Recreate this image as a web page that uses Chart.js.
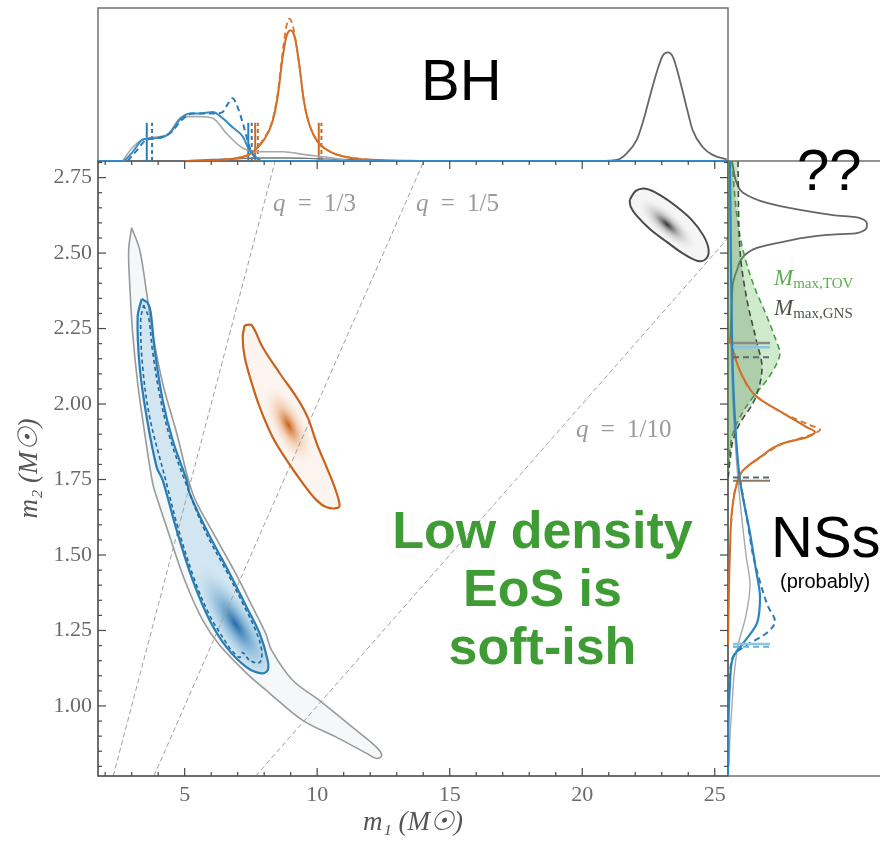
<!DOCTYPE html>
<html><head><meta charset="utf-8">
<script src="https://cdn.jsdelivr.net/npm/chart.js@4.4.0/dist/chart.umd.min.js"></script>
<style>
html,body{margin:0;padding:0;background:#fff;}
#wrap{position:relative;width:880px;height:843px;overflow:hidden;background:#fff;}
canvas{position:absolute;}
.t{position:absolute;white-space:nowrap;line-height:1;}
.sans{font-family:"Liberation Sans",Arial,sans-serif;color:#000;}
.q{font-family:"Liberation Serif",serif;color:#9a9a9a;font-size:25px;word-spacing:6px;}
.q i{font-style:italic;}
.mm{font-family:"Liberation Serif",serif;font-size:23px;}
.mm sub{font-size:15px;font-style:normal;vertical-align:-3px;}
</style></head><body>
<div id="wrap">
<canvas id="main" width="880" height="843" style="left:0;top:0"></canvas>
<canvas id="top" width="880" height="170" style="left:0;top:0"></canvas>
<canvas id="side" width="160" height="640" style="left:720px;top:150px"></canvas>

<div class="t sans" style="left:421px;top:51px;font-size:58px;">BH</div>
<div class="t sans" style="left:797px;top:141px;font-size:58px;">??</div>
<div class="t sans" style="left:771px;top:508px;font-size:58px;">NSs</div>
<div class="t sans" style="left:780px;top:571px;font-size:20px;">(probably)</div>
<div class="t sans" style="left:300px;top:501px;width:485px;text-align:center;font-size:52px;font-weight:bold;color:#3f9c35;line-height:58px;">Low density<br>EoS is<br>soft-ish</div>
<div class="t mm" style="left:774px;top:266px;color:#5aae50;"><i>M</i><sub>max,TOV</sub></div>
<div class="t mm" style="left:774px;top:296px;color:#4b574b;"><i>M</i><sub>max,GNS</sub></div>
<div class="t q" style="left:273px;top:190px;"><i>q</i> = 1/3</div>
<div class="t q" style="left:416px;top:190px;"><i>q</i> = 1/5</div>
<div class="t q" style="left:576px;top:416px;"><i>q</i> = 1/10</div>
</div>

<script>
// ================= DATA =================
const xTicks = [5, 10, 15, 20, 25];
const yTicks = [1.00, 1.25, 1.50, 1.75, 2.00, 2.25, 2.50, 2.75];
const qValues = [1/3, 1/5, 1/10];

// main panel contours (m1, m2)
const grayBanana_m1 = [3.000,3.302,3.566,3.792,4.170,4.698,5.302,6.019,6.925,7.566,8.057,8.283,9.075,10.094,11.340,12.245,12.434,12.245,11.868,10.736,9.453,8.208,7.340,6.321,5.679,5.000,4.358,3.981,3.792,3.491,3.226,3.038,2.925,2.887];
const grayBanana_m2 = [2.584,2.511,2.368,2.235,2.069,1.904,1.704,1.582,1.439,1.327,1.240,1.184,1.085,1.018,0.929,0.863,0.836,0.826,0.843,0.896,0.952,1.042,1.108,1.201,1.284,1.417,1.582,1.682,1.738,1.904,2.069,2.235,2.401,2.511];

const blueSolid_m1 = [3.377,3.604,3.717,3.868,4.170,4.547,5.075,5.189,5.830,6.698,7.340,7.830,8.132,8.132,7.906,7.340,6.585,5.943,5.302,4.698,4.170,3.943,3.566,3.302,3.226];
const blueSolid_m2 = [2.348,2.335,2.305,2.179,2.013,1.880,1.748,1.704,1.582,1.439,1.327,1.240,1.151,1.118,1.108,1.128,1.194,1.284,1.417,1.582,1.748,1.791,1.957,2.123,2.288];

const blueDashed_m1 = [3.453,3.642,3.792,4.094,4.472,5.000,5.755,6.623,7.264,7.679,7.906,7.830,7.453,7.189,7.075,6.774,6.509,5.943,5.377,4.774,4.283,3.679,3.415,3.340];
const blueDashed_m2 = [2.328,2.285,2.172,2.013,1.880,1.748,1.582,1.439,1.327,1.250,1.184,1.144,1.151,1.177,1.161,1.184,1.217,1.300,1.417,1.582,1.748,1.957,2.123,2.278];

const orange_m1 = [7.264,7.528,7.943,8.585,9.226,9.642,9.981,10.358,10.660,10.849,10.736,10.358,9.981,9.453,8.849,8.321,7.830,7.528,7.264,7.189];
const orange_m2 = [2.261,2.261,2.188,2.102,2.022,1.956,1.870,1.790,1.724,1.665,1.655,1.658,1.681,1.738,1.814,1.890,1.990,2.070,2.156,2.222];

const bh_m1 = [21.79,22.02,22.40,22.92,23.53,24.13,24.58,24.77,24.66,24.36,23.83,23.19,22.55,22.06,21.83];
const bh_m2 = [2.676,2.706,2.713,2.693,2.656,2.610,2.557,2.510,2.480,2.474,2.497,2.537,2.580,2.623,2.653];

// density peaks (m1, m2)
const blueCore = [6.93, 1.27];
const orangeCore = [8.92, 1.93];
const bhCore = [23.2, 2.595];

// top marginal: m1 and density
const topBlue_m1 = [1.73,2.66,3.04,3.42,3.98,4.43,4.81,5.19,5.57,6.06,6.43,6.81,7.19,7.45,7.72,7.94,25.5];
const topBlue_d  = [0,0.0,0.06,0.14,0.15,0.18,0.27,0.31,0.31,0.32,0.28,0.22,0.16,0.07,0.02,0.0,0];
const topBlueDash_m1 = [2.85,3.2,3.57,4.0,4.5,4.9,5.3,5.7,6.1,6.43,6.62,6.81,7.0,7.19,7.45,7.72];
const topBlueDash_d  = [0,0.07,0.14,0.15,0.19,0.27,0.31,0.31,0.31,0.32,0.37,0.41,0.35,0.25,0.09,0];
const topGray_m1 = [2.66,3.04,3.57,4.32,4.92,5.57,6.06,6.58,7.19,7.83,8.70,9.60,10.58,11.23];
const topGray_d  = [0,0.09,0.15,0.17,0.29,0.29,0.28,0.18,0.085,0.06,0.06,0.04,0.02,0];
const topGrayO_m1 = [5,6,7,8,9,10,11,12,14];
const topGrayO_d  = [0,0.01,0.015,0.02,0.02,0.015,0.01,0.005,0];
const topBH_m1 = [20.5,21.30,21.68,22.06,22.28,22.55,22.81,23.04,23.23,23.42,23.68,23.94,24.17,24.55,24.92,25.45];
const topBH_d  = [0,0.007,0.05,0.14,0.25,0.42,0.58,0.69,0.71,0.68,0.53,0.35,0.2,0.09,0.04,0.01];
const topOrange_m1 = [5.0,6.0,6.5,7.0,7.5,8.0,8.3,8.5,8.7,8.85,9.0,9.15,9.3,9.5,9.7,10.0,10.5,11.0,11.5,12.5,14.0];
const topOrange_d  = [0,0.005,0.01,0.02,0.05,0.14,0.25,0.41,0.68,0.82,0.855,0.81,0.66,0.39,0.24,0.13,0.06,0.03,0.015,0.005,0];
const topOrangeDash_m1 = [6.5,7.0,7.5,8.0,8.3,8.5,8.7,8.85,8.95,9.1,9.3,9.5,9.7,10.0,10.5,11.0,12.0];
const topOrangeDash_d  = [0.01,0.02,0.05,0.15,0.26,0.43,0.72,0.89,0.93,0.87,0.66,0.39,0.24,0.13,0.06,0.03,0.008];
// credible-interval bars in top panel (m1)
const topBarsBlue = [3.57, 7.40];
const topBarsBlueDash = [3.77, 7.53];
const topBarsOrange = [7.66, 10.06];
const topBarsOrangeDash = [7.76, 10.16];
const topBarHeight = 0.25;

// side marginal: m2 and density
const sideBH_m2 = [2.805,2.73,2.70,2.666,2.643,2.626,2.616,2.593,2.566,2.56,2.537,2.517,2.487,2.444,2.40,2.344,2.2];
const sideBH_d  = [0.04,0.09,0.15,0.39,0.72,1.05,1.32,1.39,1.29,0.99,0.55,0.29,0.15,0.09,0.05,0.04,0.02];
const sideTOV_m2 = [2.805,2.62,2.51,2.40,2.289,2.202,2.169,2.136,2.08,2.023,1.957,1.904,1.848,1.75];
const sideTOV_d  = [0.04,0.09,0.15,0.25,0.39,0.49,0.52,0.49,0.39,0.25,0.12,0.05,0.02,0.0];
const sideGNS_m2 = [2.805,2.51,2.344,2.202,2.123,2.069,2.003,1.937,1.88,1.814,1.75];
const sideGNS_d  = [0.10,0.12,0.19,0.29,0.34,0.32,0.25,0.12,0.05,0.02,0];
const sideOrange_m2 = [2.22,2.155,2.089,2.023,1.97,1.923,1.907,1.89,1.87,1.824,1.78,1.737,1.648,1.515,1.4,1.2];
const sideOrange_d  = [0.02,0.07,0.15,0.29,0.55,0.79,0.87,0.79,0.55,0.32,0.15,0.09,0.04,0.02,0.01,0];
const sideOrangeDash_m2 = [2.2,2.1,2.03,1.97,1.93,1.915,1.895,1.87,1.82,1.78,1.73,1.6];
const sideOrangeDash_d  = [0.04,0.13,0.27,0.55,0.82,0.92,0.8,0.56,0.31,0.15,0.08,0.03];
const sideBlue_m2 = [2.805,2.454,2.01,1.747,1.572,1.45,1.36,1.274,1.207,1.16,1.074,0.95,0.77];
const sideBlue_d  = [0.02,0.03,0.06,0.12,0.22,0.28,0.32,0.29,0.15,0.05,0.02,0.005,0];
const sideBlueDash_m2 = [1.75,1.6,1.5,1.4,1.33,1.28,1.24,1.2,1.17,1.1,1.0];
const sideBlueDash_d  = [0.12,0.2,0.25,0.33,0.40,0.47,0.38,0.18,0.06,0.02,0.005];
const sideGray_m2 = [2.2,2.0,1.75,1.5,1.4,1.3,1.2,1.1,1.0,0.9,0.8];
const sideGray_d  = [0.03,0.05,0.1,0.18,0.22,0.18,0.1,0.06,0.04,0.02,0.01];
// credible-interval bars in side panel (m2)
const sideBarsGray = [2.202];
const sideBarsBlue = [2.188, 1.205];
const sideBarsDash = [2.155, 1.757];
const sideBarsOrange = [1.746];
const sideBarsBlueDash = [1.196];
const sideBarLen = 0.42;

// axis limits
const M1_MIN = 1.73, M1_MAX = 25.5, M2_MIN = 0.768, M2_MAX = 2.805;

// ================= HELPERS =================
const zip = (a, b) => a.map((v, i) => ({x: v, y: b[i]}));
const closed = arr => arr.concat([arr[0]]);
const line = (data, color, width, dash, extra) => Object.assign({
  data, borderColor: color, borderWidth: width, borderDash: dash || [],
  pointRadius: 0, fill: false, tension: 0, showLine: true
}, extra || {});
const smoothC = {tension: 0.35};
const smoothM = {cubicInterpolationMode: 'monotone'};

// ================= MAIN CHART =================
const qLineData = qValues.map(q => [{x: M2_MIN / q, y: M2_MIN}, {x: M2_MAX / q, y: M2_MAX}]);

const shades = [
  {c1: grayBanana_m1, c2: grayBanana_m2, base: 'rgba(232,239,242,0.45)', core: null},
  {c1: blueSolid_m1, c2: blueSolid_m2, base: 'rgba(175,212,233,0.5)', core: blueCore,
   angle: 1.0, ratio: 0.3, r: 80, color: 'rgba(25,100,160,0.95)', mid: 'rgba(80,150,200,0.45)'},
  {c1: orange_m1, c2: orange_m2, base: 'rgba(250,238,228,0.6)', core: orangeCore,
   angle: 1.1, ratio: 0.38, r: 48, color: 'rgba(200,85,10,0.95)', mid: 'rgba(225,140,80,0.4)'},
  {c1: bh_m1, c2: bh_m2, base: 'rgba(238,238,238,0.6)', core: bhCore,
   angle: 0.72, ratio: 0.33, r: 40, color: 'rgba(40,40,40,0.95)', mid: 'rgba(120,120,120,0.4)'}
];

function tracePath(ctx, pts) {
  const n = pts.length;
  ctx.moveTo(pts[0][0], pts[0][1]);
  for (let i = 0; i < n; i++) {
    const p0 = pts[(i - 1 + n) % n], p1 = pts[i], p2 = pts[(i + 1) % n], p3 = pts[(i + 2) % n];
    const k = 0.35 / 2;
    ctx.bezierCurveTo(p1[0] + (p2[0] - p0[0]) * k, p1[1] + (p2[1] - p0[1]) * k,
                      p2[0] - (p3[0] - p1[0]) * k, p2[1] - (p3[1] - p1[1]) * k, p2[0], p2[1]);
  }
  ctx.closePath();
}

const shadePlugin = {
  id: 'shade',
  beforeDatasetsDraw(chart) {
    const {ctx, chartArea: a, scales: {x, y}} = chart;
    ctx.save();
    ctx.beginPath(); ctx.rect(a.left, a.top, a.width, a.height); ctx.clip();
    shades.forEach(s => {
      ctx.save();
      const pts = s.c1.map((m1, i) => [x.getPixelForValue(m1), y.getPixelForValue(s.c2[i])]);
      ctx.beginPath();
      tracePath(ctx, pts);
      ctx.fillStyle = s.base; ctx.fill();
      if (s.core) {
        ctx.clip();
        const cx = x.getPixelForValue(s.core[0]), cy = y.getPixelForValue(s.core[1]);
        ctx.translate(cx, cy); ctx.rotate(s.angle); ctx.scale(1, s.ratio);
        const g = ctx.createRadialGradient(0, 0, 0, 0, 0, s.r);
        g.addColorStop(0, s.color); g.addColorStop(0.4, s.mid); g.addColorStop(1, 'rgba(255,255,255,0)');
        ctx.fillStyle = g; ctx.fillRect(-s.r, -s.r, 2 * s.r, 2 * s.r);
      }
      ctx.restore();
    });
    ctx.restore();
  }
};

const mainFrame = {
  id: 'mainFrame',
  afterDraw(chart) {
    const {ctx, chartArea: a, scales: {x, y}} = chart;
    ctx.save();
    ctx.strokeStyle = '#4a4a4a';
    ctx.lineWidth = 1.6;
    ctx.strokeRect(a.left, a.top, a.width, a.height);
    ctx.lineWidth = 1.2;
    const seg = (x1, y1, x2, y2) => { ctx.beginPath(); ctx.moveTo(x1, y1); ctx.lineTo(x2, y2); ctx.stroke(); };
    for (let v = 2; v <= 25; v++) {
      const px = x.getPixelForValue(v);
      const L = xTicks.includes(v) ? 8 : 4;
      seg(px, a.bottom, px, a.bottom - L);
      seg(px, a.top, px, a.top + L);
    }
    for (let k = 16; k <= 56; k++) {
      const v = k * 0.05;
      const py = y.getPixelForValue(v);
      if (py < a.top || py > a.bottom) continue;
      const L = (k % 5 === 0) ? 8 : 4;
      seg(a.left, py, a.left + L, py);
      seg(a.right, py, a.right - L, py);
    }
    ctx.restore();
  }
};

new Chart(document.getElementById('main'), {
  type: 'line',
  data: {
    datasets: [
      line(closed(zip(blueDashed_m1, blueDashed_m2)), '#1d6aa0', 1.6, [4, 3], smoothC),
      line(closed(zip(blueSolid_m1, blueSolid_m2)), '#2a7db5', 2.2, [], smoothC),
      line(closed(zip(orange_m1, orange_m2)), '#c9621c', 2.2, [], smoothC),
      line(closed(zip(bh_m1, bh_m2)), '#4a4a4a', 2, [], smoothC),
      line(closed(zip(grayBanana_m1, grayBanana_m2)), '#9a9a9a', 1.6, [], smoothC),
      ...qLineData.map(d => line(d, '#a0a0a0', 1, [5, 3]))
    ]
  },
  options: {
    responsive: false, animation: false, devicePixelRatio: 1,
    layout: {padding: {left: 0, top: 161, right: 152, bottom: 0}},
    plugins: {legend: {display: false}, tooltip: {enabled: false}},
    scales: {
      x: {
        type: 'linear', min: M1_MIN, max: M1_MAX,
        grid: {display: false, drawTicks: false}, border: {display: false},
        afterBuildTicks: s => { s.ticks = xTicks.map(v => ({value: v})); },
        afterFit: s => { s.height = 67; },
        ticks: {padding: 6, color: '#6a6a6a', font: {family: 'Liberation Serif', size: 22}, callback: v => String(v)},
        title: {display: true, text: 'm\u2081 (M\u2609)', color: '#555', font: {family: 'Liberation Serif', size: 27, style: 'italic'}, padding: {top: 4}}
      },
      y: {
        type: 'linear', min: M2_MIN, max: M2_MAX,
        grid: {display: false, drawTicks: false}, border: {display: false},
        afterBuildTicks: s => { s.ticks = yTicks.map(v => ({value: v})); },
        afterFit: s => { s.width = 98; },
        ticks: {padding: 6, color: '#6a6a6a', font: {family: 'Liberation Serif', size: 22}, callback: v => Number(v).toFixed(2)},
        title: {display: true, text: 'm\u2082 (M\u2609)', color: '#555', font: {family: 'Liberation Serif', size: 27, style: 'italic'}, padding: {top: 14}}
      }
    }
  },
  plugins: [shadePlugin, mainFrame]
});

// ================= TOP CHART =================
const topFrame = {
  id: 'topFrame',
  afterDraw(chart) {
    const {ctx, chartArea: a} = chart;
    ctx.save();
    ctx.strokeStyle = '#707070'; ctx.lineWidth = 1.5;
    ctx.beginPath();
    ctx.moveTo(a.left, a.bottom); ctx.lineTo(a.left, a.top); ctx.lineTo(a.right, a.top); ctx.lineTo(a.right, a.bottom);
    ctx.stroke();
    ctx.restore();
  }
};
const vbar = (m1, color, dash) => line([{x: m1, y: 0}, {x: m1, y: topBarHeight}], color, 2, dash);

new Chart(document.getElementById('top'), {
  type: 'line',
  data: {
    datasets: [
      line(zip(topBlueDash_m1, topBlueDash_d), '#2a7db5', 2, [6, 4], smoothM),
      line(zip(topBlue_m1, topBlue_d), '#3a8cc4', 2, [], smoothM),
      line(zip(topOrangeDash_m1, topOrangeDash_d), '#d8752a', 1.8, [6, 4], smoothM),
      line(zip(topOrange_m1, topOrange_d), '#d06a22', 2, [], smoothM),
      line(zip(topGray_m1, topGray_d), '#a8a8a8', 1.6, [], smoothM),
      line(zip(topGrayO_m1, topGrayO_d), '#777', 1.4, [], smoothM),
      line(zip(topBH_m1, topBH_d), '#666', 1.8, [], smoothM),
      ...topBarsBlue.map(v => vbar(v, '#2a7db5')),
      ...topBarsBlueDash.map(v => vbar(v, '#2a7db5', [4, 3])),
      ...topBarsOrange.map(v => vbar(v, '#d06a22')),
      ...topBarsOrangeDash.map(v => vbar(v, '#d06a22', [4, 3]))
    ]
  },
  options: {
    responsive: false, animation: false, devicePixelRatio: 1,
    layout: {padding: {left: 98, right: 152, top: 8, bottom: 9}},
    plugins: {legend: {display: false}, tooltip: {enabled: false}},
    scales: {
      x: {type: 'linear', min: M1_MIN, max: M1_MAX, display: false},
      y: {type: 'linear', min: 0, max: 1, display: false}
    }
  },
  plugins: [topFrame]
});

// ================= SIDE CHART =================
const sideFrame = {
  id: 'sideFrame',
  afterDraw(chart) {
    const {ctx, chartArea: a} = chart;
    ctx.save();
    ctx.strokeStyle = '#707070'; ctx.lineWidth = 1.5;
    ctx.beginPath();
    ctx.moveTo(a.left, a.top); ctx.lineTo(a.right + 2, a.top);
    ctx.moveTo(a.left, a.bottom); ctx.lineTo(a.right + 2, a.bottom);
    ctx.stroke();
    ctx.restore();
  }
};
const hbar = (m2, color, dash, w) => line([{x: 0.05, y: m2}, {x: sideBarLen, y: m2}], color, w || 2.5, dash);

new Chart(document.getElementById('side'), {
  type: 'line',
  data: {
    datasets: [
      ...sideBarsGray.map(v => hbar(v, '#8a8a8a')),
      ...sideBarsBlue.map(v => hbar(v, '#8cc4e0')),
      ...sideBarsDash.map(v => hbar(v, '#5a6a70', [6, 4], 2)),
      ...sideBarsOrange.map(v => hbar(v, '#8a7a60', [], 2)),
      ...sideBarsBlueDash.map(v => hbar(v, '#6ab0d8', [6, 4], 2)),
      line(zip(sideBlueDash_d, sideBlueDash_m2), '#2a7db5', 2, [6, 4], smoothM),
      line(zip(sideBlue_d, sideBlue_m2), '#2a86c0', 2.2, [], smoothM),
      line(zip(sideOrangeDash_d, sideOrangeDash_m2), '#d8752a', 1.8, [6, 4], smoothM),
      line(zip(sideOrange_d, sideOrange_m2), '#d06a22', 2, [], smoothM),
      line(zip(sideGNS_d, sideGNS_m2), '#3e4e3e', 1.6, [6, 4], Object.assign({fill: 'origin', backgroundColor: 'rgba(70,120,70,0.25)'}, smoothM)),
      line(zip(sideTOV_d, sideTOV_m2), '#4aa040', 1.6, [6, 4], Object.assign({fill: 'origin', backgroundColor: 'rgba(120,195,110,0.35)'}, smoothM)),
      line(zip(sideGray_d, sideGray_m2), '#a8a8a8', 1.4, [], smoothM),
      line(zip(sideBH_d, sideBH_m2), '#666', 1.8, [], smoothM)
    ]
  },
  options: {
    indexAxis: 'y',
    responsive: false, animation: false, devicePixelRatio: 1,
    layout: {padding: {left: 8, right: 0, top: 11, bottom: 14}},
    plugins: {legend: {display: false}, tooltip: {enabled: false}, filler: {propagate: false}},
    scales: {
      x: {type: 'linear', min: 0, max: 1.52, display: false},
      y: {type: 'linear', min: M2_MIN, max: M2_MAX, display: false}
    }
  },
  plugins: [sideFrame]
});
</script>
</body></html>
